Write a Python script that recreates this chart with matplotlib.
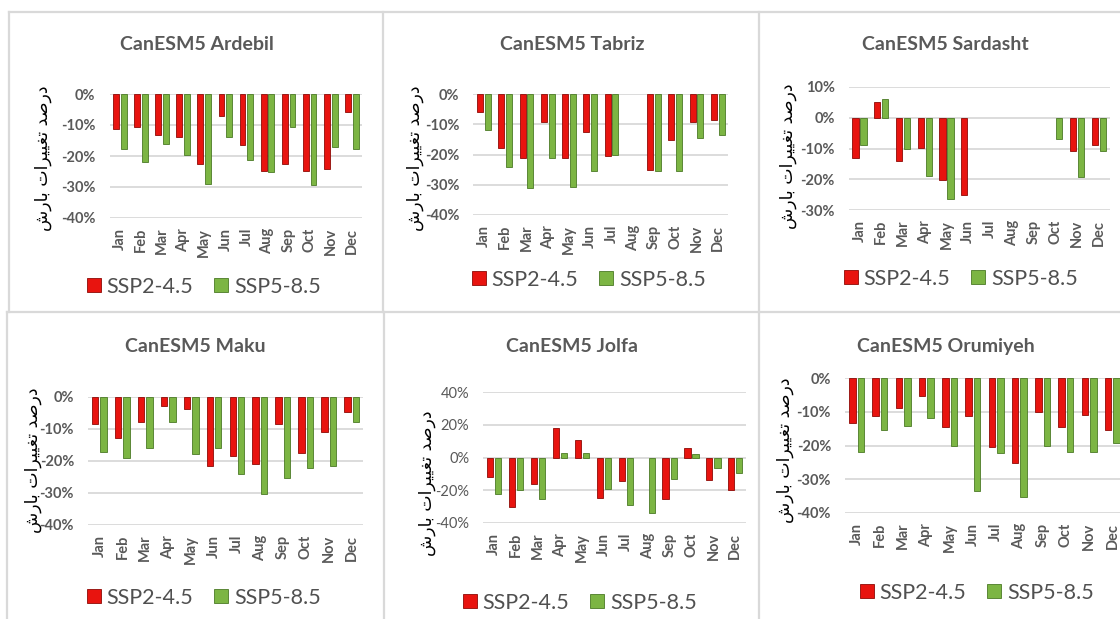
import matplotlib
matplotlib.use("Agg")
import matplotlib.pyplot as plt
from matplotlib.lines import Line2D
from matplotlib.ticker import FuncFormatter

plt.rcParams['font.family'] = ['Lato', 'DejaVu Sans']

months = ["Jan", "Feb", "Mar", "Apr", "May", "Jun", "Jul", "Aug", "Sep", "Oct", "Nov", "Dec"]
series_names = ["SSP2-4.5", "SSP5-8.5"]

ardebil_245 = [-11.4, -10.7, -13.3, -14.0, -22.5, -7.0, -16.6, -25.0, -22.5, -25.0, -24.2, -5.7]
ardebil_585 = [-17.7, -22.0, -16.2, -19.6, -29.0, -13.8, -21.3, -25.3, -10.5, -29.2, -17.1, -17.7]

tabriz_245 = [-6.0, -17.9, -21.2, -9.3, -21.2, -12.6, -20.4, 0.0, -25.1, -15.1, -9.3, -8.7]
tabriz_585 = [-12.0, -24.0, -31.2, -21.3, -30.6, -25.3, -20.1, 0.0, -25.3, -25.3, -14.6, -13.5]

sardasht_245 = [-13.0, 5.1, -14.1, -9.8, -20.1, -25.2, 0.0, 0.0, 0.0, 0.0, -10.9, -9.0]
sardasht_585 = [-9.0, 6.0, -10.1, -19.0, -26.4, 0.0, 0.0, 0.0, 0.0, -6.8, -19.2, -10.7]

maku_245 = [-8.3, -12.7, -7.8, -2.7, -3.9, -21.5, -18.3, -20.9, -8.3, -17.6, -10.8, -4.7]
maku_585 = [-17.2, -19.2, -15.9, -7.8, -17.8, -15.9, -24.1, -30.4, -25.4, -22.1, -21.6, -7.8]

jolfa_245 = [-12.2, -30.2, -15.9, 17.8, 10.6, -24.5, -14.5, 0.0, -25.5, 5.5, -13.5, -19.6]
jolfa_585 = [-22.4, -20.0, -25.1, 2.9, 2.9, -19.0, -28.8, -33.7, -12.9, 2.4, -6.7, -9.2]

orumiyeh_245 = [-13.4, -11.4, -9.0, -5.4, -14.4, -11.4, -20.5, -25.2, -10.2, -14.4, -10.9, -15.5]
orumiyeh_585 = [-21.8, -15.3, -14.2, -11.9, -20.1, -33.5, -22.3, -35.3, -20.1, -21.8, -21.8, -19.3]

titles = ["CanESM5 Ardebil", "CanESM5 Tabriz", "CanESM5 Sardasht",
          "CanESM5 Maku", "CanESM5 Jolfa", "CanESM5 Orumiyeh"]

# Persian axis label "درصد تغییرات بارش" written with Arabic presentation forms
# in visual order, since matplotlib does no Arabic shaping / bidi.
ylabel_fa = ("\uFEB5\uFEAD\uFE8E\uFE91 "
             "\uFE95\uFE8D\uFEAE\uFBFF\uFBFF\uFED0\uFE97 "
             "\uFEAA\uFEBB\uFEAD\uFEA9")

W, H = 1120, 619
fig = plt.figure(figsize=(W / 100, H / 100), dpi=100)
fig.patch.set_facecolor("white")

def fx(x):
    return x / W

def fy(y):
    return 1 - y / H

# panel borders
border_c = "#D9D9D9"
segs = [
    ((9, 12), (1120, 12)), ((9, 12), (9, 312)), ((383, 12), (383, 312)), ((759, 12), (759, 312)),
    ((7, 312), (1120, 312)), ((7, 312), (7, 619)), ((384, 312), (384, 619)), ((759, 312), (759, 619)),
]
for (x0, y0), (x1, y1) in segs:
    fig.add_artist(Line2D([fx(x0), fx(x1)], [fy(y0), fy(y1)], color=border_c, lw=1.6,
                          transform=fig.transFigure))

panels = [
    dict(data=(ardebil_245, ardebil_585), box=(109.5, 362.3, 94, 218), ylim=(-40, 0),
         ticks=[0, -10, -20, -30, -40], title=(197, 45), ylab=(43, 158), leg=(204, 287), bold=True),
    dict(data=(tabriz_245, tabriz_585), box=(473.4, 728.4, 94, 215), ylim=(-40, 0),
         ticks=[0, -10, -20, -30, -40], title=(572, 45), ylab=(415, 158), leg=(589, 280), bold=True),
    dict(data=(sardasht_245, sardasht_585), box=(848.6, 1109.7, 87, 210), ylim=(-30, 10),
         ticks=[10, 0, -10, -20, -30], title=(945, 45), ylab=(788, 156), leg=(961, 279), bold=True),
    dict(data=(maku_245, maku_585), box=(88, 363, 397, 525), ylim=(-40, 0),
         ticks=[0, -10, -20, -30, -40], title=(195, 347), ylab=(33, 460), leg=(204, 598), bold=True),
    dict(data=(jolfa_245, jolfa_585), box=(483.2, 746.3, 392, 523), ylim=(-40, 40),
         ticks=[40, 20, 0, -20, -40], title=(572, 347), ylab=(427, 483), leg=(580, 603), bold=False),
    dict(data=(orumiyeh_245, orumiyeh_585), box=(845, 1124, 378, 513), ylim=(-40, 0),
         ticks=[0, -10, -20, -30, -40], title=(946, 347), ylab=(785, 450), leg=(977, 593), bold=True),
]

red_face, red_edge = "#E8140F", "#8E0A06"
green_face, green_edge = "#7CB543", "#4B7A25"
txt_gray = "#595959"
bw = 0.28
off = 0.185

for p, title in zip(panels, titles):
    l, r, t, b = p["box"]
    ax = fig.add_axes([fx(l), fy(b), fx(r) - fx(l), fy(t) - fy(b)])
    ax.set_facecolor("none")
    s1, s2 = p["data"]
    x = list(range(len(months)))
    ax.bar([i - off for i in x], s1, width=bw, color=red_face, edgecolor=red_edge,
           linewidth=[0.6 if v != 0 else 0 for v in s1], zorder=3)
    ax.bar([i + off for i in x], s2, width=bw, color=green_face, edgecolor=green_edge,
           linewidth=[0.6 if v != 0 else 0 for v in s2], zorder=3)
    ax.set_xlim(-0.5, len(months) - 0.5)
    ax.set_ylim(*p["ylim"])
    ax.set_yticks(p["ticks"])
    ax.yaxis.set_major_formatter(FuncFormatter(lambda v, pos: f"{int(round(v))}%"))
    ax.grid(axis="y", color="#D9D9D9", lw=1.3, zorder=0)
    ax.set_axisbelow(True)
    for s in ax.spines.values():
        s.set_visible(False)
    ax.set_xticks(x)
    ax.set_xticklabels(months, rotation=90, fontsize=10.5, fontweight="bold", color=txt_gray)
    ax.tick_params(axis="x", length=0, pad=7)
    ax.tick_params(axis="y", length=0, pad=10, labelsize=10.5, labelcolor=txt_gray)
    for lab in ax.get_yticklabels():
        lab.set_fontweight("bold" if p["bold"] else "normal")
    for lab in ax.get_xticklabels():
        lab.set_verticalalignment("top")

    fig.text(fx(p["title"][0]), fy(p["title"][1]), title, ha="center", va="center",
             fontsize=14, fontweight="bold", color=txt_gray)
    fig.text(fx(p["ylab"][0]), fy(p["ylab"][1]), ylabel_fa, rotation=90, ha="center",
             va="center", fontsize=12.5, color="black", family="DejaVu Sans")

    handles = [Line2D([], [], marker="s", linestyle="none", markersize=9.5,
                      markerfacecolor=red_face, markeredgecolor=red_edge, markeredgewidth=0.6),
               Line2D([], [], marker="s", linestyle="none", markersize=9.5,
                      markerfacecolor=green_face, markeredgecolor=green_edge, markeredgewidth=0.6)]
    leg = fig.legend(handles, series_names, loc="center", ncol=2,
                     bbox_to_anchor=(fx(p["leg"][0]), fy(p["leg"][1])),
                     bbox_transform=fig.transFigure, frameon=False, fontsize=15.5,
                     handlelength=0.6, handletextpad=0.3, columnspacing=1.0,
                     borderpad=0, borderaxespad=0)
    for tx in leg.get_texts():
        tx.set_color("#505050")

fig.savefig("out.png", dpi=100, facecolor="white")
